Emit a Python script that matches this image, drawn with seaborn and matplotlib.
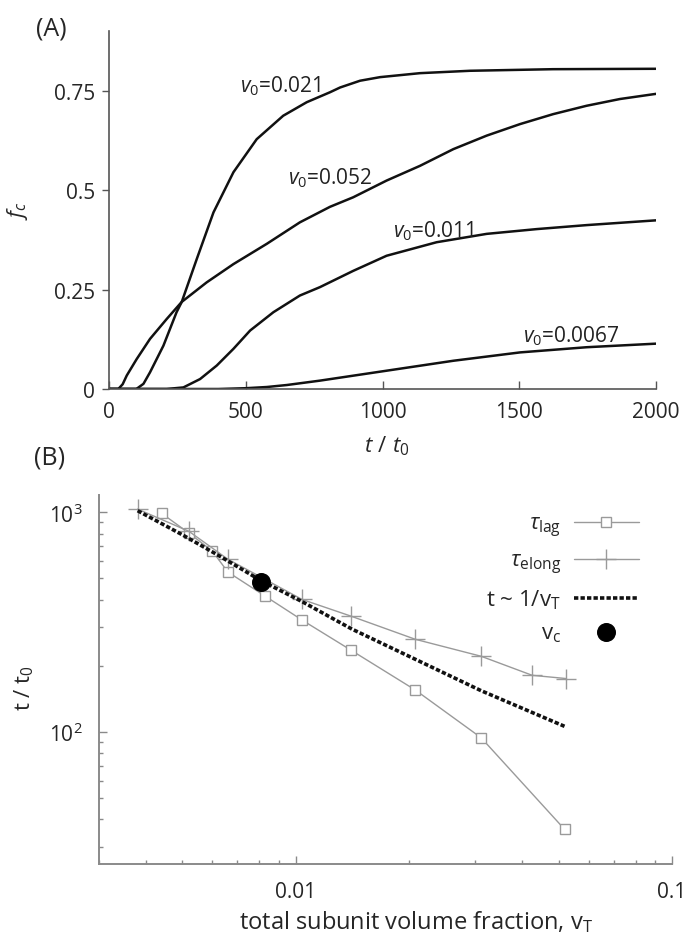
import numpy as np
import pandas as pd
import matplotlib
matplotlib.use("Agg")
import matplotlib.pyplot as plt
import matplotlib.ticker as mticker
import seaborn as sns

# ---------------- data: panel A ----------------
t_021 = [0, 100, 126, 150, 199, 247, 266, 321, 382, 455, 540, 637, 723, 808, 845, 918, 991, 1137, 1320, 1624, 2000]
f_021 = [0, 0, 0.013, 0.042, 0.109, 0.193, 0.219, 0.327, 0.444, 0.545, 0.628, 0.687, 0.721, 0.746, 0.758, 0.775, 0.784, 0.794, 0.800, 0.804, 0.805]

t_052 = [0, 34, 50, 65, 101, 150, 211, 266, 357, 455, 577, 698, 808, 893, 1015, 1137, 1259, 1381, 1503, 1624, 1746, 1868, 2000]
f_052 = [0, 0, 0.012, 0.034, 0.075, 0.126, 0.176, 0.219, 0.268, 0.314, 0.365, 0.419, 0.458, 0.482, 0.524, 0.561, 0.603, 0.637, 0.666, 0.691, 0.712, 0.729, 0.742]

t_011 = [0, 211, 272, 333, 394, 455, 516, 601, 698, 771, 893, 1015, 1198, 1381, 1564, 1746, 2000]
f_011 = [0, 0, 0.004, 0.025, 0.059, 0.101, 0.147, 0.193, 0.235, 0.256, 0.297, 0.335, 0.369, 0.390, 0.402, 0.412, 0.424]

t_0067 = [0, 400, 500, 577, 650, 771, 1015, 1259, 1503, 1746, 2000]
f_0067 = [0, 0, 0.002, 0.005, 0.010, 0.021, 0.046, 0.071, 0.092, 0.105, 0.114]

curve_labels = [r"$v_0$=0.021", r"$v_0$=0.052", r"$v_0$=0.011", r"$v_0$=0.0067"]
label_x = [479, 654, 1038, 1514]
label_y = [0.764, 0.533, 0.398, 0.134]

# ---------------- data: panel B ----------------
vT_lag = [0.0044, 0.0052, 0.0060, 0.0066, 0.0083, 0.0104, 0.0140, 0.0208, 0.0311, 0.0518]
tau_lag = [990, 805, 667, 535, 415, 323, 236, 155, 94, 36]

vT_elong = [0.0038, 0.0052, 0.0066, 0.0104, 0.0140, 0.0208, 0.0311, 0.0425, 0.0522]
tau_elong = [1035, 820, 612, 401, 337, 264, 221, 181, 175]

vT_fit = [0.0038, 0.0050, 0.0062, 0.0081, 0.0104, 0.0141, 0.0208, 0.0311, 0.0518]
t_fit = [1018, 790, 640, 488, 392, 294, 214, 154, 106]

vc_x = [0.0081]
vc_y = [482]

# ---------------- style ----------------
sns.set_theme(style="white")
FONT = "Open Sans"
plt.rcParams["font.family"] = [FONT, "DejaVu Sans"]
plt.rcParams["mathtext.fontset"] = "custom"
plt.rcParams["mathtext.rm"] = FONT
plt.rcParams["mathtext.it"] = FONT + ":italic"
plt.rcParams["mathtext.bf"] = FONT + ":bold"
plt.rcParams["mathtext.fallback"] = "stixsans"

FS = 15
fig = plt.figure(figsize=(6.9, 9.37), dpi=100)
axA = fig.add_axes([109/690, 1-390/937, 547/690, 358/937])
axB = fig.add_axes([99/690, 1-865/937, 573/690, 369/937])

# ---------------- panel A ----------------
dfA = pd.concat([
    pd.DataFrame({"t": t, "f": f, "v0": lab})
    for t, f, lab in [(t_021, f_021, "0.021"), (t_052, f_052, "0.052"),
                      (t_011, f_011, "0.011"), (t_0067, f_0067, "0.0067")]
])
for lab, g in dfA.groupby("v0", sort=False):
    sns.lineplot(data=g, x="t", y="f", ax=axA, color="#111111", lw=1.8,
                 estimator=None, sort=False, legend=False)
for txt, x, y in zip(curve_labels, label_x, label_y):
    axA.text(x, y, txt, fontsize=FS, ha="left", va="center", color="#222222")

axA.set_xlim(0, 2000)
axA.set_ylim(0, 0.9)
axA.set_xticks([0, 500, 1000, 1500, 2000])
axA.set_yticks([0, 0.25, 0.5, 0.75])
axA.set_yticklabels(["0", "0.25", "0.5", "0.75"])
for s in ["top", "right"]:
    axA.spines[s].set_visible(False)
for s in ["left", "bottom"]:
    axA.spines[s].set_color("#555555")
    axA.spines[s].set_linewidth(1.2)
axA.tick_params(axis="x", direction="in", length=6, width=1, color="#555555",
                labelsize=FS, pad=9, bottom=True)
axA.tick_params(axis="y", direction="out", length=5, width=1, color="#555555",
                labelsize=FS, pad=5, left=True)
axA.set_xlabel(r"$t\ /\ t_0$", fontsize=16)
axA.set_ylabel(r"$f_c$", fontsize=16)
axA.xaxis.set_label_coords(0.508, -0.125)
axA.yaxis.set_label_coords(-0.145, 0.5)

fig.text(51/690, 1-29/937, "(A)", fontsize=18, ha="center", va="center")
fig.text(50/690, 1-458/937, "(B)", fontsize=18, ha="center", va="center")

# ---------------- panel B ----------------
grey = "#9a9a9a"
sns.lineplot(x=vT_lag, y=tau_lag, ax=axB, color=grey, lw=1.0, marker="s",
             markersize=7, markerfacecolor="white", markeredgecolor=grey,
             markeredgewidth=1.0, estimator=None, sort=False,
             label=r"$\tau_{\mathrm{lag}}$")
sns.lineplot(x=vT_elong, y=tau_elong, ax=axB, color=grey, lw=1.0, marker="+",
             markersize=14, markeredgecolor=grey, markeredgewidth=1.0,
             estimator=None, sort=False, label=r"$\tau_{\mathrm{elong}}$")
sns.lineplot(x=vT_fit, y=t_fit, ax=axB, color="#111111", lw=2.6,
             linestyle=(0, (1.2, 0.6)), estimator=None, sort=False,
             label=r"t ~ 1/v$_{\mathrm{T}}$")
sns.scatterplot(x=vc_x, y=vc_y, ax=axB, color="black", s=160, edgecolor="black",
                zorder=5, label=r"v$_{\mathrm{c}}$")

axB.set_xscale("log")
axB.set_yscale("log")
axB.set_xlim(0.003, 0.1)
axB.set_ylim(25, 1200)
axB.xaxis.set_major_locator(mticker.FixedLocator([0.01, 0.1]))
axB.xaxis.set_major_formatter(mticker.FixedFormatter(["0.01", "0.1"]))
axB.xaxis.set_minor_locator(mticker.LogLocator(base=10, subs=np.arange(2, 10)))
axB.xaxis.set_minor_formatter(mticker.NullFormatter())
axB.yaxis.set_major_locator(mticker.FixedLocator([100, 1000]))
axB.yaxis.set_major_formatter(mticker.FixedFormatter([r"$\mathrm{10^2}$", r"$\mathrm{10^3}$"]))
axB.yaxis.set_minor_locator(mticker.LogLocator(base=10, subs=np.arange(2, 10)))
axB.yaxis.set_minor_formatter(mticker.NullFormatter())
for s in ["top", "right"]:
    axB.spines[s].set_visible(False)
for s in ["left", "bottom"]:
    axB.spines[s].set_color("#8a8a8a")
    axB.spines[s].set_linewidth(1.4)
axB.tick_params(axis="both", which="major", direction="in", length=6, width=1,
                color="#8a8a8a", labelsize=FS, left=True, bottom=True)
axB.tick_params(axis="both", which="minor", direction="in", length=3, width=1,
                color="#8a8a8a", left=True, bottom=True)
axB.tick_params(axis="x", which="major", pad=12)
axB.tick_params(axis="y", which="major", pad=12)
axB.set_xlabel(r"total subunit volume fraction, v$_{\mathrm{T}}$", fontsize=17)
axB.set_ylabel(r"t / t$_{\mathrm{0}}$", fontsize=16)
axB.xaxis.set_label_coords(0.553, -0.12)
axB.yaxis.set_label_coords(-0.11, 0.48)

leg = axB.legend(loc="upper right", bbox_to_anchor=(0.965, 0.985), frameon=False,
                 markerfirst=False, fontsize=16, handlelength=2.9,
                 handletextpad=0.6, labelspacing=0.5, borderaxespad=0.2)
for t in leg.get_texts():
    t.set_ha("right")

fig.savefig("out.png", dpi=100)
